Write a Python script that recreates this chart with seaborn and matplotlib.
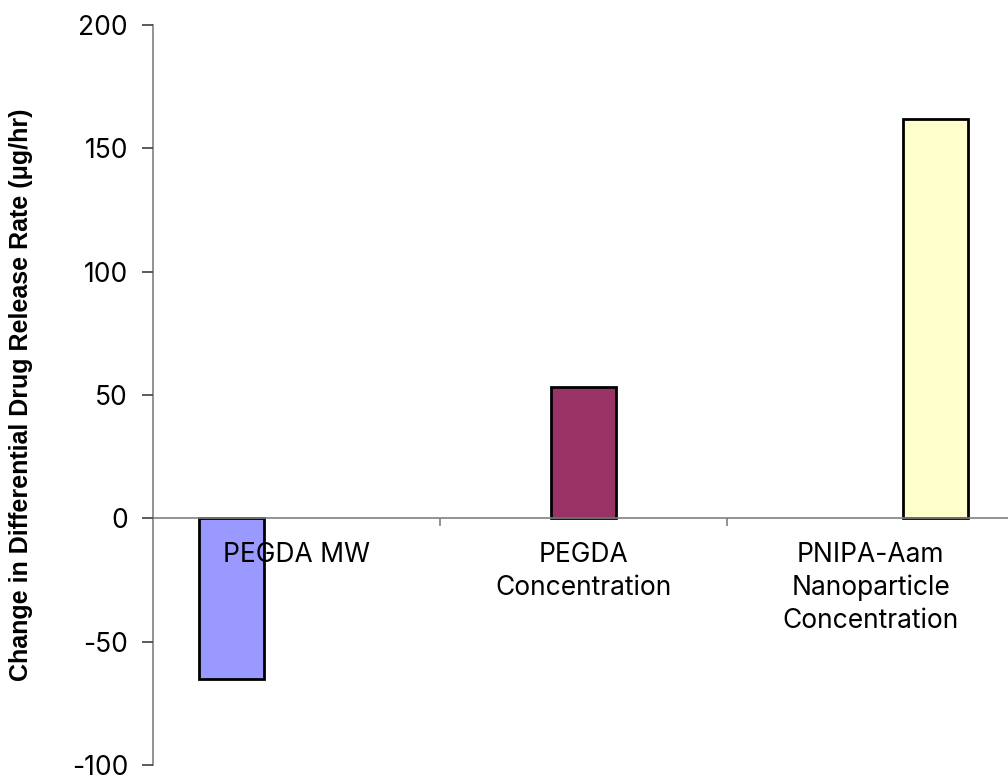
import matplotlib
matplotlib.use("Agg")
import matplotlib.pyplot as plt
import seaborn as sns
import pandas as pd
from matplotlib.ticker import FixedLocator

# Data
categories = ["PEGDA MW", "PEGDA\nConcentration", "PNIPA-Aam\nNanoparticle\nConcentration"]
series = ["PEGDA MW", "PEGDA Concentration", "PNIPA-Aam Nanoparticle Concentration"]
values = [-65.0, 53.3, 161.7]
colors = ["#9999FF", "#993366", "#FFFFCC"]
y_ticks = [-100, -50, 0, 50, 100, 150, 200]
y_label = "Change in Differential Drug Release Rate (\u03bcg/hr)"

df = pd.DataFrame({"category": categories, "series": series, "value": values})

sns.set_theme(style="white")
plt.rcParams["font.family"] = ["Inter", "Liberation Sans", "DejaVu Sans"]
for key in ["text.color", "axes.labelcolor", "xtick.color", "ytick.color"]:
    plt.rcParams[key] = "black"

fig = plt.figure(figsize=(10.08, 7.79), dpi=100)
ax = fig.add_axes([153 / 1008, 14 / 779, 861 / 1008, 740 / 779])

sns.barplot(
    data=df, x="category", y="value", hue="series",
    order=categories, hue_order=series, palette=colors,
    width=0.68, dodge=True, edgecolor="black", linewidth=2,
    saturation=1, legend=False, ax=ax,
)

ax.set_xlim(-0.5, 2.5)
ax.set_ylim(-100, 200)
ax.set_yticks(y_ticks)
ax.set_yticklabels([str(t) for t in y_ticks])

# Category axis drawn along the zero line
ax.set_axisbelow(False)
for s in ["top", "right"]:
    ax.spines[s].set_visible(False)
ax.spines["bottom"].set_position(("data", 0))
ax.spines["bottom"].set_color("#808080")
ax.spines["bottom"].set_linewidth(1.2)
ax.spines["left"].set_color("#808080")
ax.spines["left"].set_linewidth(1.2)

ax.set_xticks(range(len(categories)))
ax.set_xticklabels(categories, fontsize=19, linespacing=1.33)
ax.xaxis.set_minor_locator(FixedLocator([0.5, 1.5]))
ax.tick_params(axis="x", which="major", length=0, pad=17)
ax.tick_params(axis="x", which="minor", length=6, width=1.2, color="#808080", direction="out", bottom=True)
ax.tick_params(axis="y", which="major", length=8, width=1.2, color="#404040", direction="out",
               labelsize=19, pad=10, left=True)

ax.set_xlabel("")
ax.set_ylabel(y_label, fontsize=18, fontweight="bold", family=["Liberation Sans", "DejaVu Sans"])
ax.yaxis.set_label_coords(-0.139, 0.5)

fig.savefig("out.png", dpi=100)
